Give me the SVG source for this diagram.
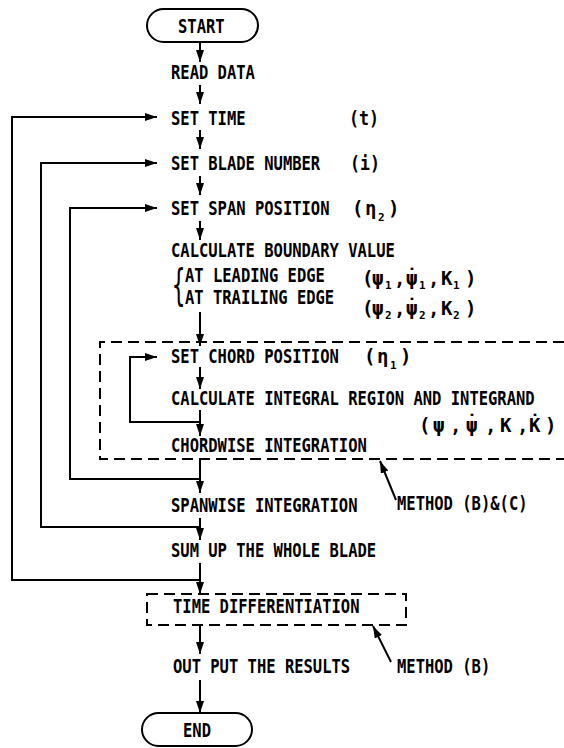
<svg xmlns="http://www.w3.org/2000/svg" width="564" height="748" viewBox="0 0 564 748">
<style>
.t{font-family:"DejaVu Sans Mono","Liberation Mono",monospace;font-size:19px;font-weight:bold;fill:#000}
.s{font-size:11px}
.ln{fill:none;stroke:#000;stroke-width:2}
.ar{fill:none;stroke:#000;stroke-width:2;marker-end:url(#ah)}
.ds{fill:none;stroke:#000;stroke-width:2;stroke-dasharray:11 6}
</style>
<defs>
<marker id="ah" viewBox="0 0 12 8" refX="12" refY="4" markerWidth="12" markerHeight="8" markerUnits="userSpaceOnUse" orient="auto">
<path d="M0,0 L12,4 L0,8 z" fill="#000"/>
</marker>
</defs>
<rect width="564" height="748" fill="#fff"/>
<g id="connectors">
<line class="ar" x1="200" y1="42" x2="200" y2="62"/>
<line class="ar" x1="200" y1="85" x2="200" y2="104"/>
<line class="ar" x1="200" y1="130" x2="200" y2="149"/>
<line class="ar" x1="200" y1="176" x2="200" y2="195"/>
<line class="ar" x1="200" y1="221" x2="200" y2="240"/>
<line class="ar" x1="200" y1="312" x2="200" y2="346"/>
<line class="ar" x1="200" y1="367" x2="200" y2="389"/>
<line class="ar" x1="200" y1="410" x2="200" y2="436"/>
<line class="ar" x1="200" y1="459" x2="200" y2="493"/>
<line class="ar" x1="200" y1="518" x2="200" y2="540"/>
<line class="ar" x1="200" y1="563" x2="200" y2="594"/>
<line class="ar" x1="200" y1="625" x2="200" y2="654"/>
<line class="ar" x1="200" y1="680" x2="200" y2="713"/>
<polyline class="ar" points="200,580 12,580 12,117 157,117"/>
<polyline class="ar" points="200,527 41,527 41,163 157,163"/>
<polyline class="ar" points="200,479 70,479 70,208 157,208"/>
<polyline class="ar" points="200,422 130,422 130,357 157,357"/>
<line class="ar" x1="396" y1="500" x2="380" y2="461"/>
<line class="ar" x1="391" y1="662" x2="373" y2="626"/>
</g>
<g id="region-chord">
<polyline class="ds" points="564,342 100,342 100,459 564,459"/>
</g>
<g id="start">
<rect class="ln" x="147" y="9" width="111" height="33" rx="16.5"/>
<text class="t" transform="translate(178,33) scale(0.8156,1)">START</text>
</g>
<g id="read-data"><text class="t" transform="translate(171,79) scale(0.8156,1)">READ DATA</text></g>
<g id="set-time">
<text class="t" transform="translate(171,125) scale(0.8156,1)">SET TIME</text>
<text class="t" transform="translate(349,125) scale(0.874,1)">(t)</text>
</g>
<g id="set-blade">
<text class="t" transform="translate(171,170) scale(0.8156,1)">SET BLADE NUMBER</text>
<text class="t" transform="translate(350,170) scale(0.874,1)">(i)</text>
</g>
<g id="set-span">
<text class="t" transform="translate(171,215) scale(0.8156,1)">SET SPAN POSITION</text>
<text class="t"><tspan x="352" y="215">(</tspan><tspan x="365" y="215">η</tspan><tspan class="s" x="378" y="221">2</tspan><tspan x="388" y="215">)</tspan></text>
</g>
<g id="boundary">
<text class="t" transform="translate(171,257) scale(0.8156,1)">CALCULATE BOUNDARY VALUE</text>
<text class="t" transform="translate(172,300) scale(0.55,1.05)" style="font-size:40px;font-weight:normal">{</text>
<text class="t" transform="translate(185,282) scale(0.8156,1)">AT LEADING EDGE</text>
<text class="t" transform="translate(185,304) scale(0.8156,1)">AT TRAILING EDGE</text>
<text class="t"><tspan x="362" y="285">(</tspan><tspan x="372" y="285">ψ</tspan><tspan class="s" x="385" y="289">1</tspan><tspan x="394" y="285">,</tspan><tspan x="406" y="285">ψ</tspan><tspan x="406.3" y="283">˙</tspan><tspan class="s" x="419" y="289">1</tspan><tspan x="428" y="285">,</tspan><tspan x="441" y="285">K</tspan><tspan class="s" x="453" y="289">1</tspan><tspan x="465" y="285">)</tspan></text>
<text class="t"><tspan x="362" y="315">(</tspan><tspan x="372" y="315">ψ</tspan><tspan class="s" x="385" y="319">2</tspan><tspan x="394" y="315">,</tspan><tspan x="406" y="315">ψ</tspan><tspan x="406.3" y="313">˙</tspan><tspan class="s" x="419" y="319">2</tspan><tspan x="428" y="315">,</tspan><tspan x="441" y="315">K</tspan><tspan class="s" x="453" y="319">2</tspan><tspan x="465" y="315">)</tspan></text>
</g>
<g id="set-chord">
<text class="t" transform="translate(171,363) scale(0.8156,1)">SET CHORD POSITION</text>
<text class="t"><tspan x="364" y="363">(</tspan><tspan x="377" y="363">η</tspan><tspan class="s" x="390" y="369">1</tspan><tspan x="400" y="363">)</tspan></text>
</g>
<g id="integral">
<text class="t" transform="translate(171,405) scale(0.8156,1)">CALCULATE INTEGRAL REGION AND INTEGRAND</text>
<text class="t"><tspan x="419" y="432">(</tspan><tspan x="433" y="432">ψ</tspan><tspan x="450" y="432">,</tspan><tspan x="466" y="432">ψ</tspan><tspan x="466.3" y="429">˙</tspan><tspan x="485" y="432">,</tspan><tspan x="500" y="432">K</tspan><tspan x="517" y="432">,</tspan><tspan x="529" y="432">K</tspan><tspan x="529.3" y="429">˙</tspan><tspan x="545" y="432">)</tspan></text>
</g>
<g id="chordwise"><text class="t" transform="translate(171,452) scale(0.8156,1)">CHORDWISE INTEGRATION</text></g>
<g id="spanwise"><text class="t" transform="translate(171,512) scale(0.8156,1)">SPANWISE INTEGRATION</text></g>
<g id="label-bc"><text class="t" transform="translate(397,510) scale(0.8156,1)">METHOD (B)&amp;(C)</text></g>
<g id="sum-up"><text class="t" transform="translate(171,557) scale(0.8156,1)">SUM UP THE WHOLE BLADE</text></g>
<g id="time-diff">
<rect class="ds" x="147" y="594" width="259" height="31"/>
<text class="t" transform="translate(173,613) scale(0.8156,1)">TIME DIFFERENTIATION</text>
</g>
<g id="output"><text class="t" transform="translate(173,673) scale(0.8156,1)">OUT PUT THE RESULTS</text></g>
<g id="label-b"><text class="t" transform="translate(397,673) scale(0.8156,1)">METHOD (B)</text></g>
<g id="end">
<rect class="ln" x="142" y="713" width="110" height="33" rx="16.5"/>
<text class="t" transform="translate(183,737) scale(0.8156,1)">END</text>
</g>
</svg>
